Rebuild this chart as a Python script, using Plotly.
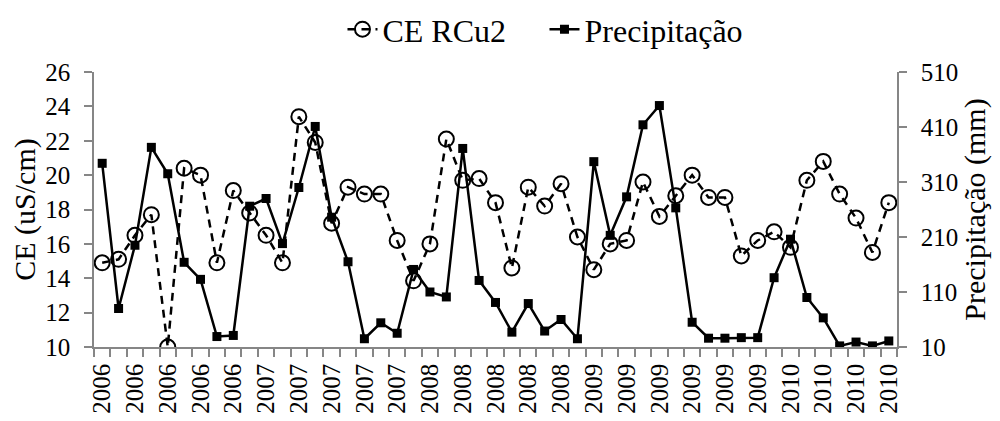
import plotly.graph_objects as go

categories = ["2006"] * 10 + ["2007"] * 10 + ["2008"] * 10 + ["2009"] * 12 + ["2010"] * 7

ce_rcu2 = [14.9, 15.1, 16.5, 17.7, 10.0, 20.4, 20.0, 14.9, 19.1, 17.8,
           16.5, 14.9, 23.4, 21.9, 17.2, 19.3, 18.9, 18.9, 16.2, 13.85,
           16.0, 22.1, 19.7, 19.8, 18.4, 14.6, 19.3, 18.2, 19.5, 16.4,
           14.5, 16.0, 16.2, 19.6, 17.6, 18.8, 20.0, 18.7, 18.7, 15.3,
           16.2, 16.7, 15.8, 19.7, 20.8, 18.9, 17.5, 15.5, 18.4]

precip = [344, 80, 195, 373, 325, 164, 133, 29, 31, 266,
          280, 198, 300, 411, 246, 165, 25, 54, 35, 151,
          110, 101, 371, 131, 91, 37, 89, 39, 60, 25,
          347, 213, 283, 414, 449, 263, 55, 26, 26, 27,
          27, 136, 206, 100, 63, 12, 19, 12, 21]

x = list(range(len(categories)))
label_idx = x[::2]
label_txt = [categories[i] for i in label_idx]
minor_vals = [i - 0.5 for i in range(len(categories) + 1)]

FONT = "Liberation Serif, Times New Roman, DejaVu Serif, serif"
AX = "#868686"
FS = 25
FT = 30
FL = 32

fig = go.Figure()
fig.add_trace(go.Scatter(
    x=x, y=ce_rcu2, name="CE RCu2", mode="lines+markers",
    line=dict(color="black", width=2.5, dash="8px,6px"),
    marker=dict(symbol="circle-open", size=15, color="black", line=dict(width=2)),
    yaxis="y"))
fig.add_trace(go.Scatter(
    x=x, y=precip, name="Precipitação", mode="lines+markers",
    line=dict(color="black", width=2.5),
    marker=dict(symbol="square", size=9, color="black"),
    yaxis="y2"))

fig.update_layout(
    width=984, height=405,
    margin=dict(l=86, r=95, t=64, b=66, autoexpand=False),
    paper_bgcolor="white", plot_bgcolor="white",
    font=dict(family=FONT, size=FS, color="black"),
    showlegend=True,
    legend=dict(orientation="h", x=0.561, xanchor="center", y=1.155, yanchor="middle",
                font=dict(family=FONT, size=FL), tracegroupgap=0,
                entrywidth=157, entrywidthmode="pixels"),
    xaxis=dict(range=[-0.5, len(categories) - 0.5], tickmode="array",
               tickvals=label_idx, ticktext=label_txt, tickangle=-90,
               ticks="", showline=True, linecolor=AX, linewidth=1.5,
               showgrid=False, zeroline=False, automargin=False,
               ticklabelstandoff=5,
               tickfont=dict(family=FONT, size=FS),
               minor=dict(tickmode="array", tickvals=minor_vals, ticks="outside",
                          ticklen=8, tickcolor=AX, tickwidth=1.5, showgrid=False)),
    yaxis=dict(range=[10, 26], dtick=2, tick0=10, ticks="outside", ticklen=8,
               tickcolor=AX, tickwidth=1.5, showline=True, linecolor=AX, linewidth=1.5,
               showgrid=False, zeroline=False, automargin=False,
               ticklabelstandoff=9,
               tickfont=dict(family=FONT, size=FS),
               title=dict(text="CE (uS/cm)", font=dict(family=FONT, size=FT), standoff=8)),
    yaxis2=dict(range=[10, 510], dtick=100, tick0=10, overlaying="y", side="right",
                ticks="outside", ticklen=8, tickcolor=AX, tickwidth=1.5,
                showline=True, linecolor=AX, linewidth=1.5, automargin=False,
                ticklabelstandoff=9,
                showgrid=False, zeroline=False, tickfont=dict(family=FONT, size=FS),
                title=dict(text="Precipitação (mm)", font=dict(family=FONT, size=FT), standoff=11)),
)

fig.write_html("out.html")
